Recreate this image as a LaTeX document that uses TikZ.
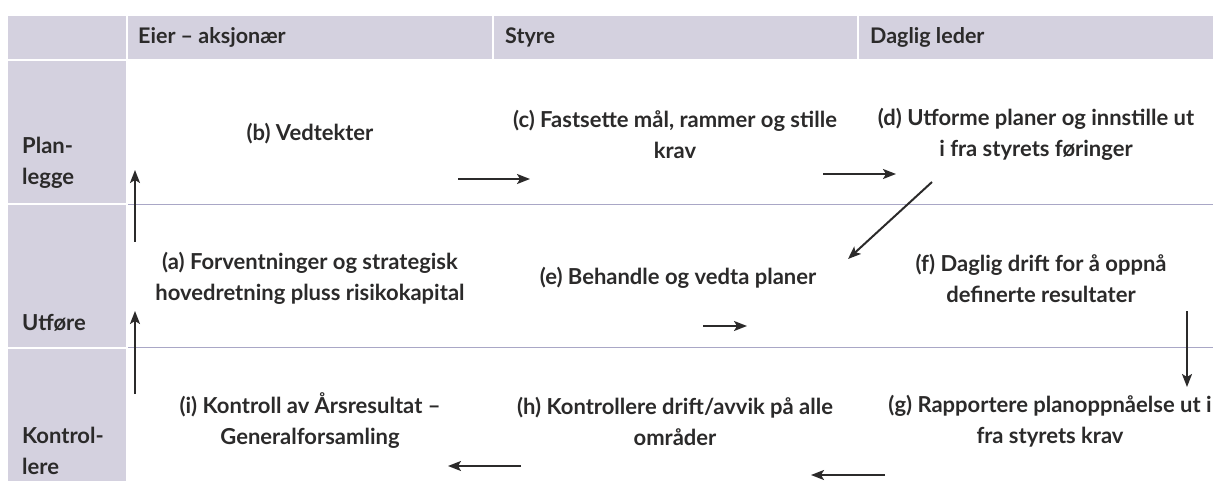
\documentclass[tikz,border=0pt]{standalone}
\usepackage{fontspec}
\setmainfont{Lato}
\usetikzlibrary{arrows.meta}
\definecolor{lav}{HTML}{D4D1DF}
\definecolor{rowline}{HTML}{A9A7C6}
\definecolor{ink}{HTML}{2B2A2A}
\begin{document}
\begin{tikzpicture}[x=1pt,y=-1pt,
  txt/.style={font=\bfseries\fontsize{22}{31}\selectfont, text=ink, align=center, inner sep=0pt},
  head/.style={font=\bfseries\fontsize{21.5}{31}\selectfont, text=ink, anchor=west, inner sep=0pt},
  rowlab/.style={font=\bfseries\fontsize{22}{31}\selectfont, text=ink, align=left, anchor=west, inner sep=0pt},
  arr/.style={draw=ink, line width=2pt, -{Stealth[length=13pt,width=10pt,inset=3pt]}}]
\useasboundingbox (0,0) rectangle (1213,481);
% backgrounds
\fill[lav] (8,16) rectangle (1213,59);
\fill[lav] (8,61) rectangle (126,481);
\fill[white] (126,16) rectangle (128,59);
\fill[white] (492,16) rectangle (494,59);
\fill[white] (857,16) rectangle (859,59);
\fill[white] (8,203.5) rectangle (126,205.5);
\fill[white] (8,346.5) rectangle (126,348.5);
\draw[rowline, line width=1pt] (128,204.5) -- (1213,204.5);
\draw[rowline, line width=1pt] (128,347.5) -- (1213,347.5);
% headers
\node[head] (h1) at (138,37) {Eier – aksjonær};
\node[head] (h2) at (505,37) {Styre};
\node[head] (h3) at (870,37) {Daglig leder};
% row labels
\node[rowlab] (r1) at (22,163) {Plan-\\legge};
\node[rowlab] (r2) at (22,323) {Utføre};
\node[rowlab] (r3) at (22,451) {Kontrol-\\lere};
% cells
\node[txt] (b) at (310,134) {(b) Vedtekter};
\node[txt] (c) at (675,134) {(c) Fastsette mål, rammer og stille\\krav};
\node[txt] (d) at (1036,134) {(d) Utforme planer og innstille ut\\i fra styrets føringer};
\node[txt] (a) at (310,278) {(a) Forventninger og strategisk\\hovedretning pluss risikokapital};
\node[txt] (e) at (678,278) {(e) Behandle og vedta planer};
\node[txt] (f) at (1041,278) {(f) Daglig drift for å oppnå\\definerte resultater};
\node[txt] (i) at (310,421) {(i) Kontroll av Årsresultat –\\Generalforsamling};
\node[txt] (h) at (675,421) {(h) Kontrollere drift/avvik på alle\\områder};
\node[txt] (g) at (1050,421) {(g) Rapportere planoppnåelse ut i\\fra styrets krav};
% arrow endpoints
\coordinate (a1s) at (135,242); \coordinate (a1e) at (135,170);
\coordinate (a2s) at (135,394); \coordinate (a2e) at (135,311);
\coordinate (bcs) at (458,179); \coordinate (bce) at (530,179);
\coordinate (cds) at (823,174); \coordinate (cde) at (896,174);
\coordinate (des) at (932,182); \coordinate (dee) at (848,259);
\coordinate (efs) at (703,326); \coordinate (efe) at (747,326);
\coordinate (fgs) at (1187,311); \coordinate (fge) at (1187,387);
\coordinate (ghs) at (885,475); \coordinate (ghe) at (811,475);
\coordinate (his) at (521,466); \coordinate (hie) at (448,466);
\draw[arr] (a1s) -- (a1e);
\draw[arr] (a2s) -- (a2e);
\draw[arr] (bcs) -- (bce);
\draw[arr] (cds) -- (cde);
\draw[arr] (des) -- (dee);
\draw[arr] (efs) -- (efe);
\draw[arr] (fgs) -- (fge);
\draw[arr] (ghs) -- (ghe);
\draw[arr] (his) -- (hie);
\end{tikzpicture}
\end{document}
